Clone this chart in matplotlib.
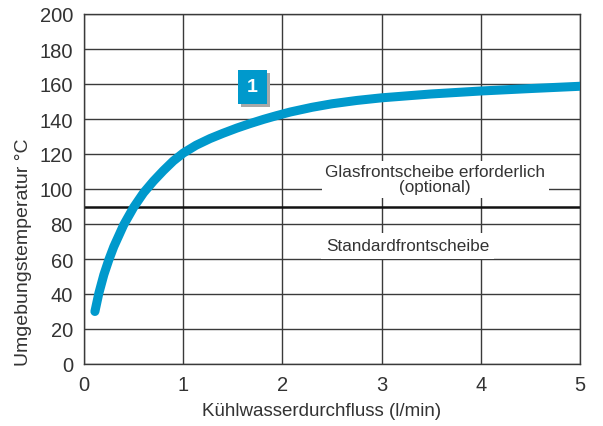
import matplotlib.pyplot as plt
import matplotlib.patheffects as pe

plt.rcParams['font.family'] = ['Liberation Sans', 'DejaVu Sans']

# Kurve: Umgebungstemperatur ueber Kuehlwasserdurchfluss
flow = [0.11, 0.15, 0.2, 0.25, 0.3, 0.4, 0.5, 0.6, 0.7, 0.8, 0.9, 1.0,
        1.13, 1.27, 1.4, 1.54, 1.67, 1.81, 1.94, 2.08, 2.3, 2.5, 2.75, 3.0,
        3.5, 4.0, 4.5, 5.0]
temp = [30.0, 40.5, 51.0, 59.5, 67.0, 79.5, 89.5, 97.8, 104.5, 110.5, 116.0, 120.5,
        125.0, 128.8, 131.8, 134.8, 137.3, 139.8, 141.9, 144.0, 146.7, 148.7, 150.6, 152.1,
        154.3, 156.0, 157.4, 158.7]

limit_temp = 90
x_ticks = [0, 1, 2, 3, 4, 5]
y_ticks = list(range(0, 201, 20))

txt = '#333333'
blue = '#0099cc'

fig = plt.figure(figsize=(6.03, 4.27), dpi=100)
ax = fig.add_axes([84 / 603, 62 / 427, 496 / 603, 350 / 427])
ax.set_xlim(0, 5)
ax.set_ylim(0, 200)
ax.set_xticks(x_ticks)
ax.set_yticks(y_ticks)
ax.tick_params(length=0, labelsize=14.5, labelcolor=txt, pad=8)
ax.grid(True, color='#3a3a3a', linewidth=1.0)
ax.set_axisbelow(True)
for s in ax.spines.values():
    s.set_color('#3a3a3a')
    s.set_linewidth(1.0)

ax.axhline(limit_temp, color='#111111', linewidth=1.8, zorder=2)

ax.text(3.54, 105.5, 'Glasfrontscheibe erforderlich\n(optional)', ha='center', va='center',
        fontsize=12.3, color=txt, linespacing=1.0, zorder=3,
        bbox=dict(facecolor='white', edgecolor='none', boxstyle='square,pad=0.2'))
ax.text(3.26, 67.5, 'Standardfrontscheibe', ha='center', va='center',
        fontsize=12.3, color=txt, zorder=3,
        bbox=dict(facecolor='white', edgecolor='none', boxstyle='square,pad=0.3'))

ax.plot(flow, temp, color=blue, linewidth=6.5, solid_capstyle='round',
        solid_joinstyle='round', zorder=4)

# Markierung "1" mit grauem Schatten
badge = ax.text(1.70, 158.3, '1', ha='center', va='center', fontsize=14,
                fontweight='bold', color='white', zorder=6,
                bbox=dict(facecolor=blue, edgecolor='none', boxstyle='square,pad=0.45'))
badge.get_bbox_patch().set_path_effects(
    [pe.SimplePatchShadow(offset=(2, -2), shadow_rgbFace='#a8a8a8', alpha=1), pe.Normal()])

ax.set_xlabel('Kühlwasserdurchfluss (l/min)', fontsize=13.5, color=txt)
ax.xaxis.set_label_coords(0.479, -0.108)
ax.set_ylabel('Umgebungstemperatur °C', fontsize=14, color=txt)
ax.yaxis.set_label_coords(-0.105, 0.323)

fig.savefig('out.png', dpi=100)
